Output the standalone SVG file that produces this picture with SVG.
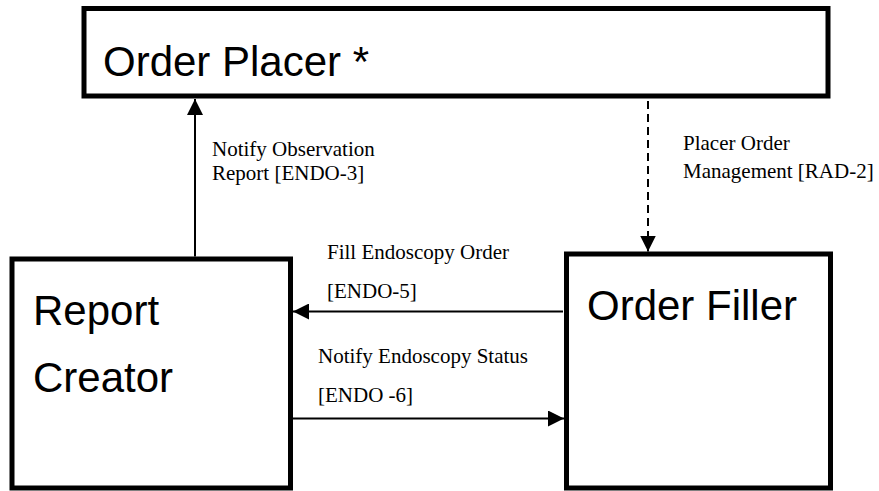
<svg xmlns="http://www.w3.org/2000/svg" width="879" height="491" viewBox="0 0 879 491">
<style>
.box{fill:#fff;stroke:#000;stroke-width:5}
.big{font-family:"Liberation Sans",Arial,sans-serif;font-size:42px;fill:#000}
.lbl{font-family:"Liberation Serif","Times New Roman",serif;font-size:21px;fill:#000}
.con{stroke:#000;stroke-width:2;fill:none}
.dash{stroke-dasharray:8 5}
</style>
<defs>
<marker id="ah" markerUnits="userSpaceOnUse" markerWidth="16" markerHeight="16" refX="16" refY="8" orient="auto">
<path d="M0,0 L16,8 L0,16 z" fill="#000"/>
</marker>
</defs>
<rect width="879" height="491" fill="#fff"/>
<g id="order-placer">
<rect class="box" x="84" y="8.5" width="744" height="87.5"/>
<text class="big" x="103" y="76">Order Placer *</text>
</g>
<g id="report-creator">
<rect class="box" x="12" y="259" width="278.5" height="229"/>
<text class="big" x="33" y="325">Report</text>
<text class="big" x="33" y="392">Creator</text>
</g>
<g id="order-filler">
<rect class="box" x="566.5" y="254" width="264" height="234"/>
<text class="big" x="587" y="320">Order Filler</text>
</g>
<g id="connectors">
<line class="con" x1="195" y1="256.5" x2="195" y2="99" marker-end="url(#ah)"/>
<line class="con dash" x1="648" y1="101" x2="648" y2="251.5" marker-end="url(#ah)"/>
<line class="con" x1="563" y1="311.5" x2="293" y2="311.5" marker-end="url(#ah)"/>
<line class="con" x1="293" y1="418.5" x2="564" y2="418.5" marker-end="url(#ah)"/>
</g>
<g id="labels">
<text class="lbl" x="212" y="156">Notify Observation</text>
<text class="lbl" x="212" y="180">Report [ENDO-3]</text>
<text class="lbl" x="683" y="150">Placer Order</text>
<text class="lbl" x="683" y="178">Management [RAD-2]</text>
<text class="lbl" x="327" y="259">Fill Endoscopy Order</text>
<text class="lbl" x="327" y="298">[ENDO-5]</text>
<text class="lbl" x="318" y="363">Notify Endoscopy Status</text>
<text class="lbl" x="318" y="402">[ENDO -6]</text>
</g>
</svg>
